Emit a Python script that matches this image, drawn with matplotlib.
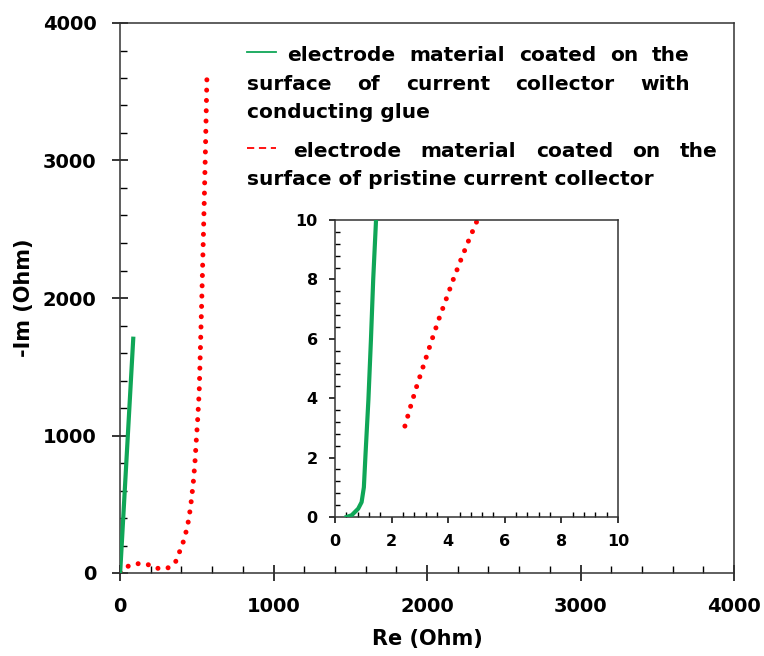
import matplotlib
matplotlib.use("Agg")
import matplotlib.pyplot as plt
from matplotlib.lines import Line2D
from matplotlib.ticker import MultipleLocator

# Nyquist data (Re, -Im) in Ohm
glue_re = [0.41, 0.59, 0.82, 0.94, 1.02, 1.08, 1.18, 1.27, 1.35, 1.45, 87]
glue_im = [0.0, 0.06, 0.28, 0.5, 1.0, 2.14, 3.94, 5.97, 8.0, 10.0, 1719]

pristine_re = [2.47, 2.67, 2.88, 3.11, 3.45, 3.68, 3.93, 4.18, 4.44, 4.71, 5.0,
               43, 113, 178, 243, 308, 360, 384, 408, 427, 442, 453, 462,
               477, 488, 496, 505, 516, 533, 548, 557, 566]
pristine_im = [3.06, 3.72, 4.38, 5.05, 6.04, 6.69, 7.34, 8.0, 8.64, 9.28, 9.93,
               46, 68, 63, 34, 34, 75, 143, 211, 284, 356, 429, 502,
               652, 800, 948, 1098, 1319, 2000, 2664, 3100, 3590]

legend_glue = ["electrode material coated on the",
               "surface of current collector with",
               "conducting glue"]
legend_pristine = ["electrode material coated on the",
                   "surface of pristine current collector"]

GREEN = "#0fa657"
RED = "#ff0000"
W, H = 764, 656

plt.rcParams["font.family"] = "DejaVu Sans"
plt.rcParams["font.weight"] = "bold"

fig = plt.figure(figsize=(W / 100, H / 100), dpi=100)


def px_box(l, t, r, b):
    return [l / W, 1 - b / H, (r - l) / W, (b - t) / H]


def style_axis(ax, maj, mnr, lim, size, major_dir, maj_len, mnr_len, pad):
    ax.set_xlim(*lim)
    ax.set_ylim(*lim)
    ax.xaxis.set_major_locator(MultipleLocator(maj))
    ax.yaxis.set_major_locator(MultipleLocator(maj))
    ax.xaxis.set_minor_locator(MultipleLocator(mnr))
    ax.yaxis.set_minor_locator(MultipleLocator(mnr))
    ax.tick_params(which="major", direction=major_dir, length=maj_len, width=1.1,
                   labelsize=size, pad=pad, top=False, right=False)
    ax.tick_params(which="minor", direction="in", length=mnr_len, width=1.0,
                   top=False, right=False)
    for sp in ax.spines.values():
        sp.set_linewidth(1.1)
        sp.set_color("#333333")
    for lab in ax.get_xticklabels() + ax.get_yticklabels():
        lab.set_fontweight("bold")


# main axes
ax = fig.add_axes(px_box(120, 23, 734, 573))
ax.plot(pristine_re, pristine_im, color=RED, lw=3.6, dashes=(0.01, 2.05),
        dash_capstyle="round", zorder=2)
ax.plot(glue_re, glue_im, color=GREEN, lw=3.0, solid_capstyle="butt", zorder=3)
style_axis(ax, 1000, 200, (0, 4000), 14, "inout", 12, 5, 11)
ax.set_xlabel("Re (Ohm)", fontsize=15, fontweight="bold", labelpad=10)
ax.set_ylabel("-Im (Ohm)", fontsize=15, fontweight="bold", labelpad=6)

# inset
axi = fig.add_axes(px_box(335, 220, 618, 517))
axi.plot(pristine_re, pristine_im, color=RED, lw=3.6, dashes=(0.01, 2.05),
         dash_capstyle="round", zorder=2)
axi.plot(glue_re, glue_im, color=GREEN, lw=3.0, zorder=3)
style_axis(axi, 2, 0.4, (0, 10), 11.5, "out", 4.5, 3.5, 8)

# legend as justified text block
renderer = fig.canvas.get_renderer()
FS = 14.5


def put_line(text, x0, baseline, x1=None):
    words = text.split()
    if x1 is None:
        fig.text(x0 / W, 1 - baseline / H, text, fontsize=FS, fontweight="bold",
                 va="baseline", ha="left")
        return
    arts = [fig.text(0, 1 - baseline / H, w, fontsize=FS, fontweight="bold",
                     va="baseline", ha="left") for w in words]
    widths = [a.get_window_extent(renderer).width for a in arts]
    gap = (x1 - x0 - sum(widths)) / (len(words) - 1)
    x = x0
    for a, wd in zip(arts, widths):
        a.set_x(x / W)
        x += wd + gap


put_line(legend_glue[0], 287, 61, 690)
put_line(legend_glue[1], 247, 90, 690)
put_line(legend_glue[2], 247, 118)
put_line(legend_pristine[0], 293, 157, 718)
put_line(legend_pristine[1], 247, 185)

fig.add_artist(Line2D([247 / W, 276 / W], [1 - 52 / H, 1 - 52 / H],
                      color=GREEN, lw=1.3))
fig.add_artist(Line2D([247 / W, 276 / W], [1 - 148 / H, 1 - 148 / H],
                      color=RED, lw=1.3, dashes=(4, 2.6)))

fig.savefig("out.png", dpi=100)
